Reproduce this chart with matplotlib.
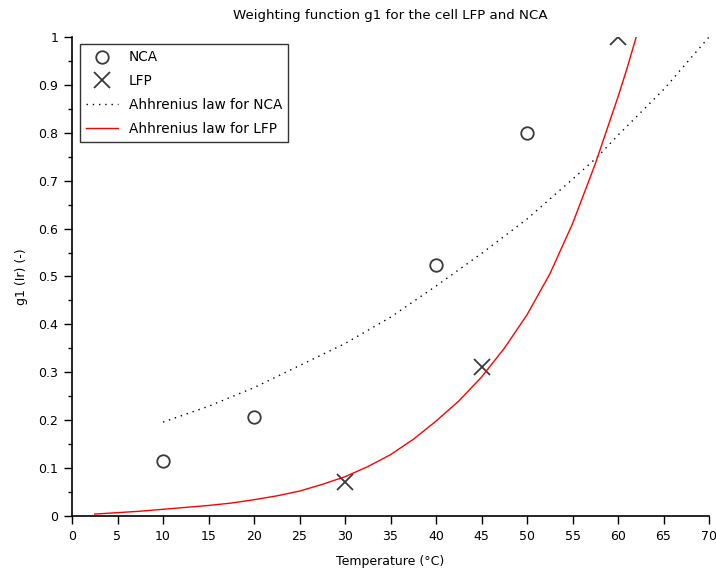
import numpy as np
import matplotlib
matplotlib.use("Agg")
import matplotlib.pyplot as plt
from matplotlib.ticker import MultipleLocator, FormatStrFormatter

# measured points
nca_T = [10, 20, 40, 50]
nca_g = [0.115, 0.207, 0.523, 0.80]
lfp_T = [30, 45, 60]
lfp_g = [0.072, 0.312, 1.0]

# Arrhenius fits
nca_fit_T = [10, 15, 20, 25, 30, 35, 40, 45, 50, 55, 57.65, 60, 65, 70]
nca_fit_g = [0.196, 0.229, 0.268, 0.314, 0.36, 0.415, 0.48, 0.548,
             0.62, 0.703, 0.748, 0.795, 0.89, 1.0]
lfp_fit_T = [2.5, 5, 7.5, 10, 12.5, 15, 17.5, 20, 22.5, 25, 27.5, 30, 32.5,
             35, 37.5, 40, 42.5, 45, 47.5, 50, 52.5, 55, 57.5, 60, 61, 62]
lfp_fit_g = [0.004, 0.007, 0.010, 0.014, 0.018, 0.022, 0.027, 0.034, 0.042,
             0.052, 0.066, 0.082, 0.103, 0.128, 0.16, 0.198, 0.24, 0.29,
             0.35, 0.42, 0.505, 0.61, 0.735, 0.875, 0.935, 1.0]

fig = plt.figure(figsize=(7.16, 5.71), dpi=100)
ax = fig.add_axes([72 / 716, 55 / 571, 637 / 716, 479 / 571])

ax.plot(nca_T, nca_g, linestyle='none', marker='o', markersize=9,
        markerfacecolor='none', markeredgecolor='#3a3a3a', markeredgewidth=1.3,
        label='NCA')
ax.plot(lfp_T, lfp_g, linestyle='none', marker='x', markersize=12,
        markeredgecolor='#3a3a3a', markeredgewidth=1.3, label='LFP')
ax.plot(nca_fit_T, nca_fit_g, color='black', linewidth=1.0,
        linestyle=(0, (1, 3.5)), label='Ahhrenius law for NCA')
ax.plot(lfp_fit_T, lfp_fit_g, color='red', linewidth=1.0,
        label='Ahhrenius law for LFP')

ax.set_xlim(0, 70)
ax.set_ylim(0, 1)
ax.xaxis.set_major_locator(MultipleLocator(5))
ax.yaxis.set_major_locator(MultipleLocator(0.1))
ax.yaxis.set_minor_locator(MultipleLocator(0.05))
ax.yaxis.set_major_formatter(FormatStrFormatter('%g'))
ax.tick_params(axis='both', which='major', direction='out', length=6,
               width=1, labelsize=9, colors='black', pad=4)
ax.tick_params(axis='y', which='minor', direction='out', length=3, width=1)

for side in ['top', 'right']:
    ax.spines[side].set_visible(False)
for side in ['left', 'bottom']:
    ax.spines[side].set_linewidth(1.2)

ax.set_title('Weighting function g1 for the cell LFP and NCA', fontsize=9.6, pad=13)
ax.set_xlabel('Temperature (°C)', fontsize=9, labelpad=9)
ax.set_ylabel('g1 (Ir) (-)', fontsize=9, labelpad=7)

leg = ax.legend(loc='upper left', bbox_to_anchor=(0.012, 0.985), fontsize=9.8,
                frameon=True, fancybox=False, edgecolor='black',
                borderpad=0.45, labelspacing=0.72, handlelength=2.4,
                handletextpad=0.75, borderaxespad=0)
leg.get_frame().set_linewidth(1.0)

fig.savefig('out.png', dpi=100)
